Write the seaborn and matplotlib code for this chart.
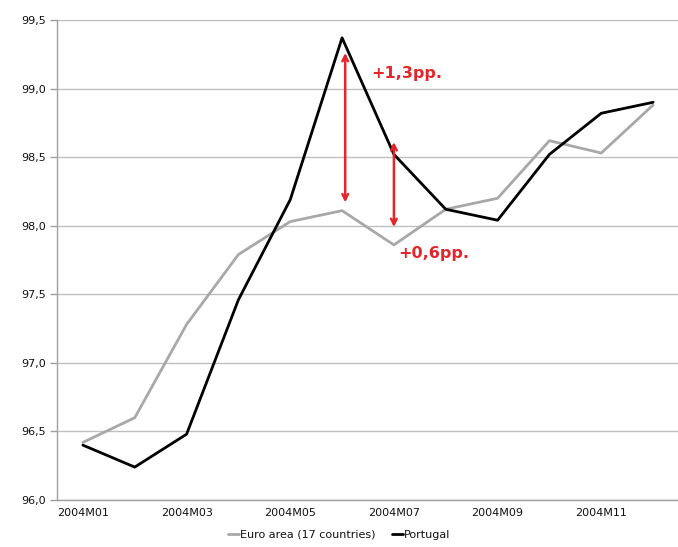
import matplotlib
matplotlib.use("Agg")
import matplotlib.pyplot as plt
import seaborn as sns
import pandas as pd

# Monthly index values, 2004
months = ["2004M01", "2004M02", "2004M03", "2004M04", "2004M05", "2004M06",
          "2004M07", "2004M08", "2004M09", "2004M10", "2004M11", "2004M12"]
euro_area = [96.42, 96.60, 97.28, 97.79, 98.03, 98.11,
             97.86, 98.12, 98.20, 98.62, 98.53, 98.88]
portugal = [96.40, 96.24, 96.48, 97.46, 98.19, 99.37,
            98.52, 98.12, 98.04, 98.52, 98.82, 98.90]
series_names = ["Euro area (17 countries)", "Portugal"]
y_ticks = [96.0, 96.5, 97.0, 97.5, 98.0, 98.5, 99.0, 99.5]

# Gap annotations: (month, label)
gaps = [("2004M06", "+1,3pp."), ("2004M07", "+0,6pp.")]

sns.set_theme(style="white")
plt.rcParams["font.family"] = ["DejaVu Sans"]

df = pd.DataFrame({
    "pos": list(range(len(months))) * 2,
    "value": euro_area + portugal,
    "series": [series_names[0]] * len(months) + [series_names[1]] * len(months),
})

fig = plt.figure(figsize=(6.78, 5.47), dpi=100)
ax = fig.add_axes([57 / 678, 47 / 547, 622 / 678, 480 / 547])

sns.lineplot(data=df, x="pos", y="value", hue="series",
             palette={series_names[0]: "#A8A8A8", series_names[1]: "#000000"},
             linewidth=2.0, ax=ax, legend=True)

ax.set_xlim(-0.5, len(months) - 0.5)
ax.set_ylim(y_ticks[0], y_ticks[-1])

# y axis
ax.set_yticks(y_ticks)
ax.set_yticklabels([f"{v:.1f}".replace(".", ",") for v in y_ticks],
                   fontsize=8, color="#111111")
ax.yaxis.grid(True, color="#BEBEBE", linewidth=1.0)
ax.set_axisbelow(True)

# x axis: labels on every other month, tick marks between categories
label_pos = list(range(0, len(months), 2))
ax.set_xticks(label_pos)
ax.set_xticklabels([months[i] for i in label_pos], fontsize=8, color="#111111")
ax.set_xticks([i - 0.5 for i in range(len(months) + 1)], minor=True)
ax.tick_params(axis="x", which="major", length=0, pad=6)
ax.tick_params(axis="x", which="minor", length=5, color="#A0A0A0", width=1)
ax.tick_params(axis="y", which="major", length=5, color="#A0A0A0", width=1,
               left=True, pad=3)

ax.set_xlabel("")
ax.set_ylabel("")
for side in ["top", "right"]:
    ax.spines[side].set_visible(False)
for side in ["left", "bottom"]:
    ax.spines[side].set_color("#A0A0A0")
    ax.spines[side].set_linewidth(1.0)

# Double-headed arrows showing the gap between the two series
red = "#E3262B"
offsets = [(0.06, +0.11, +0.06), (0.0, -0.09, +0.13)]
text_pos = [(0.57, 99.11), (0.09, 97.80)]
for (m, label), (dx, top_pad, bot_pad), (tx, ty) in zip(gaps, offsets, text_pos):
    i = months.index(m)
    hi, lo = portugal[i], euro_area[i]
    ax.annotate("", xy=(i + dx, lo + bot_pad), xytext=(i + dx, hi - top_pad),
                arrowprops=dict(arrowstyle="<->", color=red, lw=1.8,
                                shrinkA=0, shrinkB=0, mutation_scale=10))
    ax.text(i + tx, ty, label, color=red, fontsize=11.5, fontweight="bold",
            ha="left", va="center")

# Legend below the axis
handles, labels = ax.get_legend_handles_labels()
ax.get_legend().remove()
fig.legend(handles, labels, loc="lower center", bbox_to_anchor=(0.5, -0.005),
           ncol=2, frameon=False, fontsize=8, handlelength=1.0,
           handletextpad=0.1, columnspacing=1.5, labelcolor="#111111")

fig.savefig("out.png", dpi=100)
